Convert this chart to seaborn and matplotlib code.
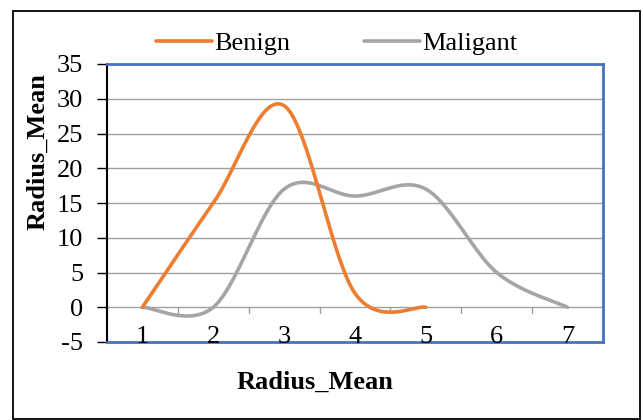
import numpy as np
import pandas as pd
import matplotlib
matplotlib.use("Agg")
import matplotlib.pyplot as plt
import seaborn as sns
from matplotlib.patches import Rectangle
from matplotlib.lines import Line2D

categories = [1, 2, 3, 4, 5, 6, 7]
benign = [0, 15, 29, 2, 0]
maligant = [0, 0, 17, 16, 17, 5, 0]
y_ticks = [-5, 0, 5, 10, 15, 20, 25, 30, 35]

sns.set_theme(style="white")
plt.rcParams['font.family'] = ['Liberation Serif', 'DejaVu Serif']
plt.rcParams['text.color'] = 'black'
plt.rcParams['axes.labelcolor'] = 'black'
plt.rcParams['ytick.color'] = 'black'
plt.rcParams['xtick.color'] = 'black'


def smooth(xv, yv, n=40):
    """Excel-like smoothed line (Catmull-Rom Bezier) through the data points."""
    P = np.column_stack([xv, yv]).astype(float)
    ext = np.vstack([P[0], P, P[-1]])
    out = []
    t = np.linspace(0, 1, n)[:, None]
    for i in range(len(P) - 1):
        p0 = ext[i + 1]
        p3 = ext[i + 2]
        c1 = p0 + (ext[i + 2] - ext[i]) / 6.0
        c2 = p3 - (ext[i + 3] - ext[i + 1]) / 6.0
        seg = ((1 - t) ** 3) * p0 + 3 * ((1 - t) ** 2) * t * c1 + 3 * (1 - t) * t ** 2 * c2 + t ** 3 * p3
        out.append(seg if i == 0 else seg[1:])
    s = np.vstack(out)
    return s[:, 0], s[:, 1]


fig = plt.figure(figsize=(6.43, 4.2), dpi=100)
ax = fig.add_axes([107 / 643, 1 - 342 / 420, 496 / 643, 278 / 420])

orange = "#ED7D31"
gray = "#A5A5A5"

bx, by = smooth(categories[:len(benign)], benign)
mx, my = smooth(categories[:len(maligant)], maligant)
df_b = pd.DataFrame({"x": bx, "y": by})
df_m = pd.DataFrame({"x": mx, "y": my})
sns.lineplot(data=df_b, x="x", y="y", ax=ax, color=orange, lw=2.6, sort=False, zorder=4)
sns.lineplot(data=df_m, x="x", y="y", ax=ax, color=gray, lw=2.6, sort=False, zorder=3)

ax.set_xlim(0.5, 7.5)
ax.set_ylim(-5, 35)
ax.set_yticks(y_ticks)
ax.set_yticklabels([str(v) for v in y_ticks], fontsize=19, color="black")
ax.set_xticks([])
for v in y_ticks[2:-1]:
    ax.axhline(v, color="#A0A0A0", lw=1.0, zorder=1)
# category axis at y=0
ax.axhline(0, color="#A0A0A0", lw=1.0, zorder=2)
for k in range(len(categories) + 1):
    xt = 0.5 + k
    ax.plot([xt, xt], [0, -0.8], color="#A0A0A0", lw=1.0, zorder=2, clip_on=False)
for c in categories:
    ax.text(c, -4.3, str(c), ha="center", va="center", fontsize=19, color="black")

ax.tick_params(axis="y", left=True, length=7, width=1, color="black", pad=10, labelcolor="black")
for side in ["top", "right", "bottom"]:
    ax.spines[side].set_color("#4472C4")
    ax.spines[side].set_linewidth(2)
ax.spines["left"].set_color("black")
ax.spines["left"].set_linewidth(1.5)
ax.set_xlabel("")
ax.set_ylabel("")
fig.text(38 / 643, 1 - 152 / 420, "Radius_Mean", ha="center", va="center", rotation=90,
         fontsize=19, fontweight="bold", color="black")
fig.text(315 / 643, 1 - 382 / 420, "Radius_Mean", ha="center", va="center",
         fontsize=19, fontweight="bold", color="black")

handles = [Line2D([], [], color=orange, lw=2.6), Line2D([], [], color=gray, lw=2.6)]
leg = fig.legend(handles, ["Benign", "Maligant"], loc="center", bbox_to_anchor=(337 / 643, 1 - 43 / 420),
                 ncol=2, frameon=False, fontsize=19, handlelength=2.1, handletextpad=0.1,
                 columnspacing=2.8)
for txt in leg.get_texts():
    txt.set_color("black")

fig.patches.append(Rectangle((13 / 643, 1 / 420), 627 / 643, 408 / 420, transform=fig.transFigure,
                             fill=False, edgecolor="black", lw=1.3))

fig.savefig("out.png", dpi=100)
